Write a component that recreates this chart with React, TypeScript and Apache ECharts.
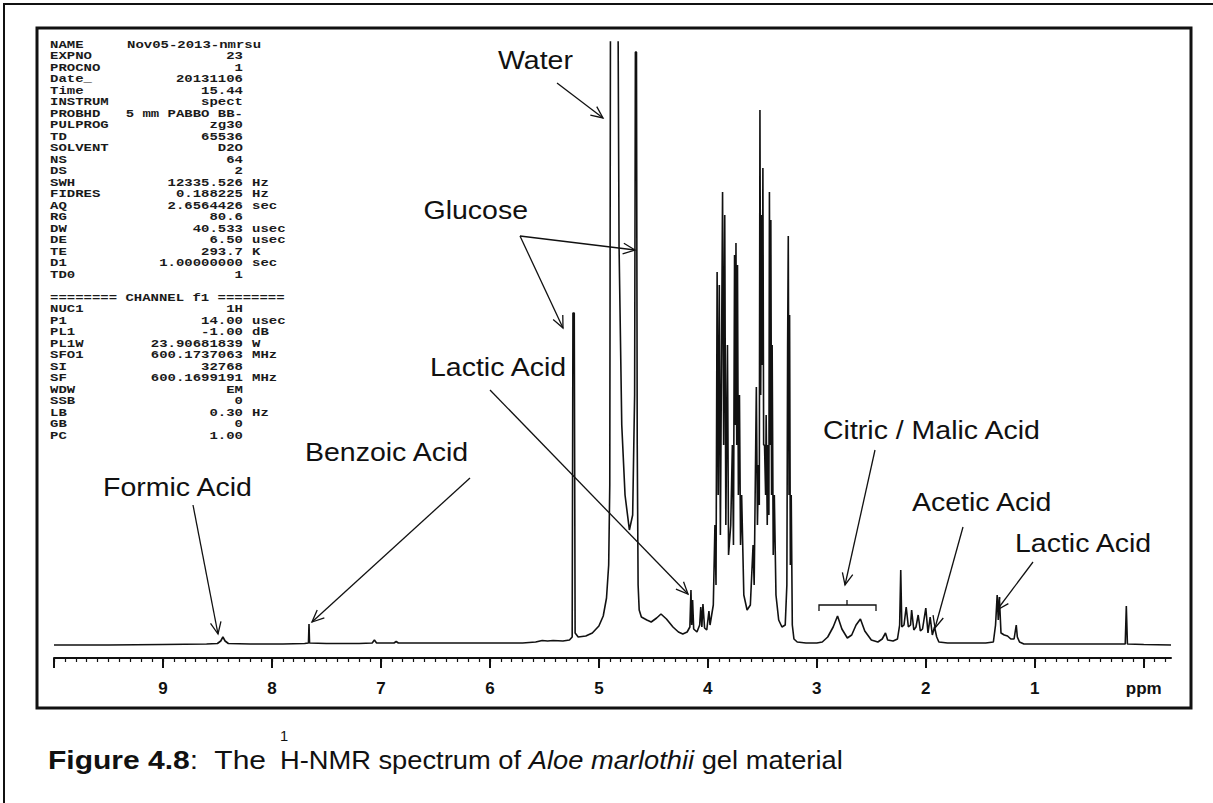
import React, { useEffect, useRef } from "react";
import * as echarts from "echarts";

const W = 1213;
const H = 803;

// ---- spectrum, [ppm, intensity above baseline] ----
const aromaticRegion: [number, number][] = [
  [10.0, 0], [9.5, 0], [9.0, 0.5], [8.6, 1], [8.5, 1.5], [8.47, 4], [8.45, 8], [8.43, 4], [8.4, 1.5],
  [8.2, 1], [7.9, 1], [7.7, 1.5], [7.665, 2], [7.66, 21], [7.655, 2], [7.5, 1.5], [7.2, 1.5],
  [7.08, 2], [7.06, 5], [7.04, 2], [6.88, 2], [6.86, 3.5], [6.84, 2], [6.5, 2], [6.0, 2],
  [5.7, 2], [5.58, 3], [5.52, 4.5], [5.47, 4], [5.42, 4.5], [5.33, 4], [5.27, 5],
];
const anomericWaterRegion: [number, number][] = [
  [5.245, 8], [5.238, 332], [5.226, 332], [5.218, 12], [5.19, 8], [5.12, 9], [5.06, 12], [5.0, 19],
  [4.96, 29], [4.93, 47], [4.91, 80], [4.9, 160], [4.89, 900], [4.835, 900], [4.815, 400], [4.79, 220],
  [4.76, 150], [4.72, 115], [4.69, 130], [4.672, 250], [4.665, 593], [4.655, 593], [4.648, 200],
  [4.64, 60], [4.63, 35], [4.61, 28], [4.56, 25], [4.52, 23], [4.47, 27], [4.43, 31], [4.38, 26],
  [4.32, 18], [4.27, 13], [4.23, 11], [4.19, 13], [4.165, 18], [4.155, 55], [4.148, 20], [4.14, 45],
  [4.13, 16], [4.1, 13], [4.075, 20], [4.065, 38], [4.055, 18], [4.045, 41], [4.03, 17], [4.01, 15],
  [3.99, 34], [3.98, 20], [3.965, 30], [3.95, 40],
];
const sugarRegion: [number, number][] = [
  [3.935, 120], [3.925, 60], [3.915, 373], [3.905, 150], [3.895, 360], [3.885, 110], [3.865, 453],
  [3.855, 200], [3.845, 430], [3.835, 120], [3.82, 300], [3.81, 90], [3.79, 120], [3.775, 200],
  [3.765, 100], [3.755, 390], [3.748, 220], [3.742, 402], [3.735, 200], [3.728, 380], [3.72, 150],
  [3.71, 250], [3.7, 100], [3.69, 150], [3.67, 50], [3.64, 35], [3.61, 40], [3.585, 100], [3.575, 60],
  [3.555, 258], [3.545, 120], [3.535, 180], [3.528, 140], [3.522, 535], [3.515, 250], [3.508, 430],
  [3.5, 280], [3.495, 477], [3.488, 200], [3.48, 200], [3.47, 150], [3.465, 230], [3.455, 120],
  [3.448, 200], [3.44, 130], [3.435, 453], [3.428, 200], [3.422, 425], [3.415, 150], [3.41, 300],
  [3.4, 90], [3.39, 150], [3.375, 50], [3.35, 25], [3.32, 18], [3.29, 20], [3.275, 60], [3.268, 300],
  [3.262, 409], [3.255, 150], [3.25, 330], [3.243, 80], [3.235, 150], [3.225, 20], [3.21, 6],
];
const aliphaticRegion: [number, number][] = [
  [3.18, 3], [3.1, 2], [3.0, 2], [2.95, 3], [2.9, 8], [2.85, 18], [2.81, 29], [2.77, 16], [2.72, 7],
  [2.68, 10], [2.64, 20], [2.6, 26], [2.56, 14], [2.5, 5], [2.44, 3], [2.4, 6], [2.37, 12], [2.35, 5],
  [2.3, 4], [2.26, 6], [2.24, 20], [2.23, 75], [2.22, 18], [2.2, 20], [2.18, 38], [2.16, 18],
  [2.14, 20], [2.13, 35], [2.11, 15], [2.09, 18], [2.07, 30], [2.05, 14], [2.03, 16], [2.0, 37],
  [1.98, 12], [1.96, 28], [1.94, 10], [1.92, 18], [1.9, 8], [1.88, 3], [1.8, 2], [1.6, 2], [1.45, 2],
  [1.38, 3], [1.36, 20], [1.345, 50], [1.335, 25], [1.325, 48], [1.31, 12], [1.28, 10], [1.25, 9],
  [1.22, 6], [1.19, 6], [1.17, 20], [1.16, 8], [1.14, 3], [1.1, 1], [0.8, 1], [0.5, 1], [0.17, 1],
  [0.16, 39], [0.15, 1], [0.0, 0.5], [-0.25, 0],
];

// ---- axis ----
const majorTicks = [10, 9, 8, 7, 6, 5, 4, 3, 2, 1, 0];
const labelValues = [9, 8, 7, 6, 5, 4, 3, 2, 1, 0];
const unitLabel = "ppm";

// ---- acquisition parameters ----
const experimentName = "Nov05-2013-nmrsu";
const acqNames = ["NAME", "EXPNO", "PROCNO", "Date_", "Time", "INSTRUM", "PROBHD", "PULPROG", "TD", "SOLVENT", "NS", "DS", "SWH", "FIDRES", "AQ", "RG", "DW", "DE", "TE", "D1", "TD0"];
const acqValues = ["", "23", "1", "20131106", "15.44", "spect", "5 mm PABBO BB-", "zg30", "65536", "D2O", "64", "2", "12335.526", "0.188225", "2.6564426", "80.6", "40.533", "6.50", "293.7", "1.00000000", "1"];
const acqUnits = ["", "", "", "", "", "", "", "", "", "", "", "", "Hz", "Hz", "sec", "", "usec", "usec", "K", "sec", ""];
const channelHeader = "======== CHANNEL f1 ========";
const chNames = ["NUC1", "P1", "PL1", "PL1W", "SFO1", "SI", "SF", "WDW", "SSB", "LB", "GB", "PC"];
const chValues = ["1H", "14.00", "-1.00", "23.90681839", "600.1737063", "32768", "600.1699191", "EM", "0", "0.30", "0", "1.00"];
const chUnits = ["", "usec", "dB", "W", "MHz", "", "MHz", "", "", "Hz", "", ""];

// ---- annotations ----
const annotationLabels = ["Water", "Glucose", "Lactic Acid", "Benzoic Acid", "Formic Acid", "Citric / Malic Acid", "Acetic Acid", "Lactic Acid"];

// ---- caption ----
const captionBold = "Figure 4.8";
const captionLead = ":  The ";
const captionSup = "1";
const captionRest = "H-NMR spectrum of ";
const captionItalic = "Aloe marlothii";
const captionTail = " gel material";

const SANS = "Liberation Sans";
const MONO = "Liberation Mono";
const STRETCH = 1.14;

function arrow(x1: number, y1: number, x2: number, y2: number, head = 13): any[] {
  const a = Math.atan2(y2 - y1, x2 - x1);
  const s = 0.42;
  const p1 = [x2 - head * Math.cos(a - s), y2 - head * Math.sin(a - s)];
  const p2 = [x2 - head * Math.cos(a + s), y2 - head * Math.sin(a + s)];
  return [
    { type: "line", shape: { x1, y1, x2, y2 }, style: { stroke: "#111", lineWidth: 1.3 }, z: 100 },
    { type: "polyline", shape: { points: [p1, [x2, y2], p2] }, style: { stroke: "#111", lineWidth: 1.3, fill: "none" }, z: 100 },
  ];
}

function annText(text: string, x: number, y: number, align = "left"): any {
  return {
    type: "text", x, y, z: 100, scaleX: STRETCH,
    style: { text, fontFamily: SANS, fontSize: 25, fill: "#111", textAlign: align, align, textVerticalAlign: "middle", verticalAlign: "middle" },
  };
}

function monoText(text: string, x: number, y: number, align = "left"): any {
  return {
    type: "text", x, y, scaleX: 1.27, z: 100,
    style: { text, fontFamily: MONO, fontWeight: "bold", fontSize: 11, fill: "#1a1a1a", textAlign: align, align, textVerticalAlign: "middle", verticalAlign: "middle" },
  };
}

function measure(text: string, font: string): number {
  const c = document.createElement("canvas").getContext("2d")!;
  c.font = font;
  return c.measureText(text).width;
}

export default function App() {
  const ref = useRef<HTMLDivElement>(null);

  useEffect(() => {
    const el = ref.current!;
    const chart = echarts.init(el, undefined, { renderer: "svg", width: W, height: H });

    const spectrum = [...aromaticRegion, ...anomericWaterRegion, ...sugarRegion, ...aliphaticRegion];
    const minorTicks: number[] = [];
    for (let k = -2; k <= 100; k++) minorTicks.push(k / 10);

    const g: any[] = [];
    // frames
    g.push({ type: "rect", shape: { x: 4, y: 4, width: 1300, height: 900 }, style: { fill: "none", stroke: "#111", lineWidth: 2 }, z: 50 });
    g.push({ type: "rect", shape: { x: 37, y: 28, width: 1154, height: 680 }, style: { fill: "none", stroke: "#111", lineWidth: 3 }, z: 50 });

    // parameter block
    const row = (i: number) => 45 + 11.5 * i;
    acqNames.forEach((n, i) => {
      g.push(monoText(n, 50, row(i)));
      if (acqValues[i]) g.push(monoText(acqValues[i], 243, row(i), "right"));
      if (acqUnits[i]) g.push(monoText(acqUnits[i], 252, row(i)));
    });
    g.push(monoText(experimentName, 127, row(0)));
    g.push(monoText(channelHeader, 50, row(22)));
    chNames.forEach((n, i) => {
      g.push(monoText(n, 50, row(23 + i)));
      if (chValues[i]) g.push(monoText(chValues[i], 243, row(23 + i), "right"));
      if (chUnits[i]) g.push(monoText(chUnits[i], 252, row(23 + i)));
    });

    // annotations
    g.push(annText(annotationLabels[0], 498, 61));
    g.push(...arrow(557, 83, 603, 118));
    g.push(annText(annotationLabels[1], 528, 211, "right"));
    g.push(...arrow(520, 236, 635, 250));
    g.push(...arrow(520, 236, 563, 328));
    g.push(annText(annotationLabels[2], 430, 368));
    g.push(...arrow(490, 390, 688, 594));
    g.push(annText(annotationLabels[3], 305, 453));
    g.push(...arrow(470, 478, 312, 622));
    g.push(annText(annotationLabels[4], 103, 488));
    g.push(...arrow(193, 505, 218, 634));
    g.push(annText(annotationLabels[5], 823, 431));
    g.push(...arrow(875, 450, 845, 585));
    g.push({ type: "polyline", shape: { points: [[819, 611], [819, 605], [876, 605], [876, 611]] }, style: { stroke: "#111", lineWidth: 1.3, fill: "none" }, z: 100 });
    g.push({ type: "line", shape: { x1: 847, y1: 605, x2: 847, y2: 600 }, style: { stroke: "#111", lineWidth: 1.3 }, z: 100 });
    g.push(annText(annotationLabels[6], 912, 503));
    g.push(...arrow(963, 527, 935, 628));
    g.push(annText(annotationLabels[7], 1015, 544));
    g.push(...arrow(1033, 562, 997, 610));

    // caption
    const capFs = 26;
    const capScale = 1.155;
    const capScale2 = 1.05;
    const capFamily = '"Liberation Sans"';
    const wA = (measure(captionBold, `bold ${capFs}px ${capFamily}`) + measure(captionLead, `${capFs}px ${capFamily}`)) * capScale;
    const capX = 48;
    const capY = 760;
    const hX = capX + wA + 5;
    g.push({
      type: "text", x: capX, y: capY, z: 100, scaleX: capScale,
      style: {
        text: `{b|${captionBold}}{n|${captionLead}}`, textVerticalAlign: "middle", verticalAlign: "middle",
        rich: {
          b: { fontFamily: SANS, fontWeight: "bold", fontSize: capFs, fill: "#111" },
          n: { fontFamily: SANS, fontSize: capFs, fill: "#111" },
        },
      },
    });
    g.push({
      type: "text", x: hX, y: capY - 24, z: 100, scaleX: capScale2,
      style: { text: captionSup, fontFamily: SANS, fontSize: 14, fill: "#111", textVerticalAlign: "middle", verticalAlign: "middle" },
    });
    g.push({
      type: "text", x: hX, y: capY, z: 100, scaleX: capScale2,
      style: {
        text: `{n|${captionRest}}{i|${captionItalic}}{n|${captionTail}}`, textVerticalAlign: "middle", verticalAlign: "middle",
        rich: {
          n: { fontFamily: SANS, fontSize: capFs, fill: "#111" },
          i: { fontFamily: SANS, fontStyle: "italic", fontSize: capFs, fill: "#111" },
        },
      },
    });

    const option: any = {
      animation: false,
      backgroundColor: "#fff",
      grid: { left: 54, right: 42, top: 42, bottom: 145 },
      xAxis: [
        {
          type: "value", min: -0.25, max: 10, inverse: true, position: "bottom",
          axisLine: { show: true, onZero: false, lineStyle: { color: "#111", width: 2 } },
          axisTick: { show: true, customValues: majorTicks, length: 10, lineStyle: { color: "#111", width: 2 } },
          axisLabel: {
            show: true, customValues: labelValues, margin: 22,
            formatter: (v: number) => (v === 0 ? unitLabel : String(v)),
            color: "#111", fontWeight: "bold", fontSize: 17, fontFamily: SANS,
          },
          splitLine: { show: false },
        },
        {
          type: "value", min: -0.25, max: 10, inverse: true, position: "bottom",
          axisLine: { show: false, onZero: false },
          axisTick: { show: true, customValues: minorTicks, length: 4, lineStyle: { color: "#111", width: 1.2 } },
          axisLabel: { show: false },
          splitLine: { show: false },
        },
      ],
      yAxis: { type: "value", min: -13, max: 603, show: false },
      series: [
        {
          type: "line", data: spectrum, xAxisIndex: 0, yAxisIndex: 0, showSymbol: false, symbol: "none",
          lineStyle: { color: "#111", width: 1.6 }, clip: true, silent: true,
        },
      ],
      graphic: g,
    };
    chart.setOption(option);
    return () => chart.dispose();
  }, []);

  return (
    <div
      ref={ref}
      style={{ position: "absolute", left: 0, top: 0, width: W, height: H, background: "#fff" }}
    />
  );
}
